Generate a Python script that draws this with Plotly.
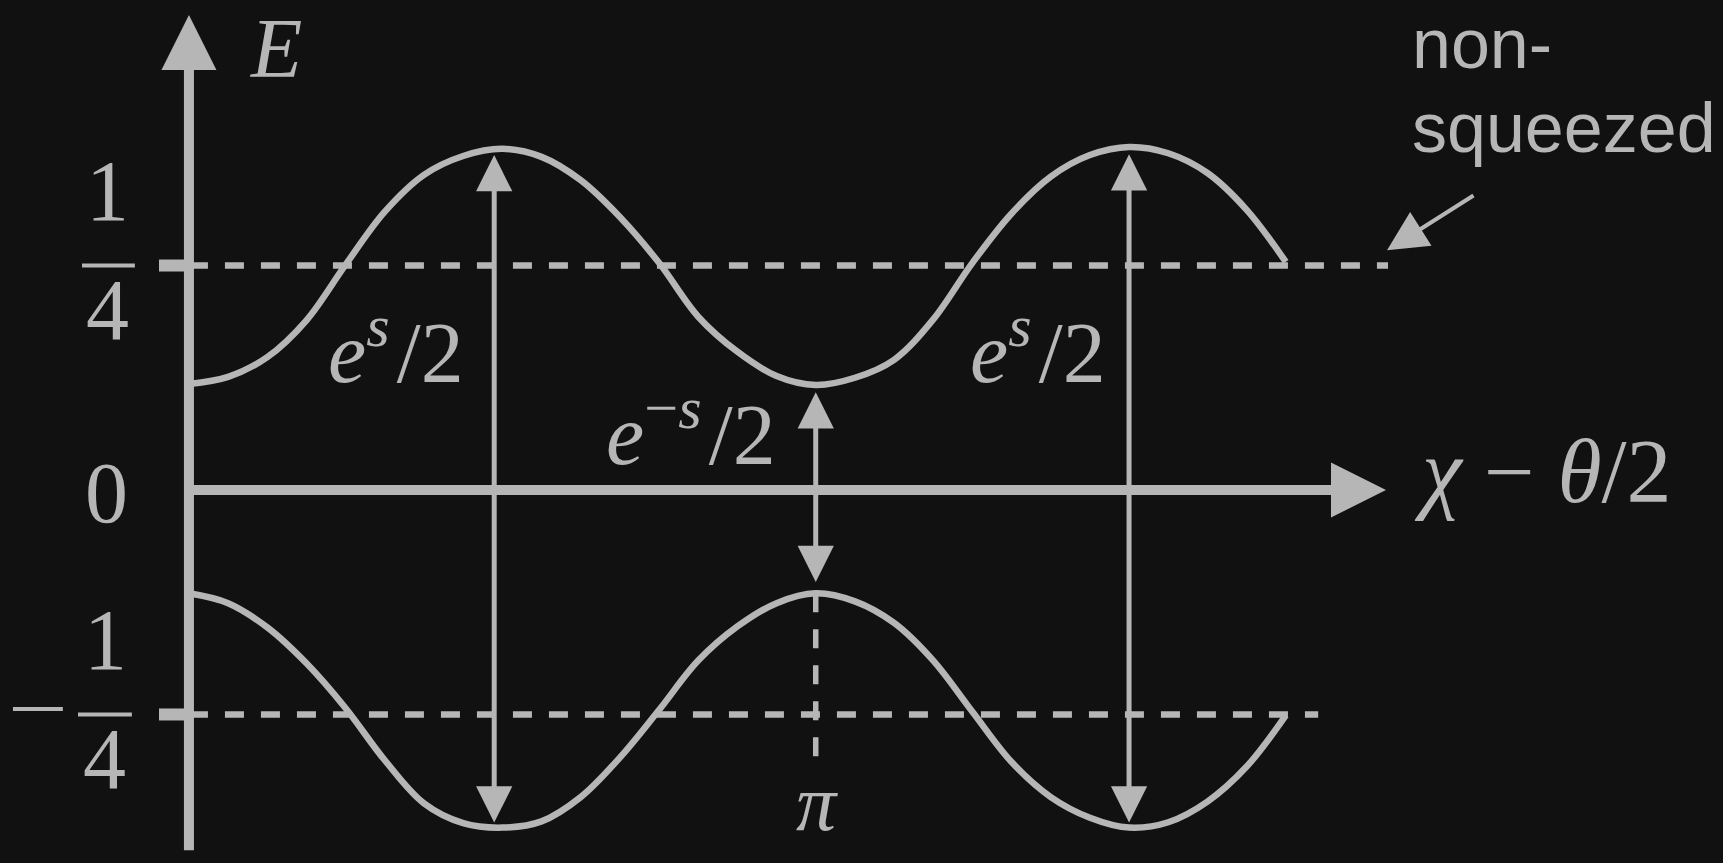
import numpy as np
import plotly.graph_objects as go

BG = "#111111"
FG = "#b6b6b6"
PI = np.pi

# ---- data: phase samples at k*pi/16 (radians) ----
phase_k = list(range(29))
upper_E = [0.118, 0.126, 0.148, 0.189, 0.251, 0.310, 0.351, 0.372, 0.380,
           0.371, 0.345, 0.304, 0.253, 0.193, 0.154, 0.127, 0.117,
           0.125, 0.145, 0.190, 0.253, 0.308, 0.349, 0.373, 0.382,
           0.375, 0.353, 0.312, 0.254]
lower_E = [-0.115, -0.126, -0.153, -0.193, -0.243, -0.301, -0.349, -0.371, -0.376,
           -0.369, -0.342, -0.298, -0.245, -0.190, -0.152, -0.126, -0.115,
           -0.124, -0.148, -0.190, -0.247, -0.303, -0.342, -0.365, -0.376,
           -0.370, -0.347, -0.308, -0.251]

levels = [0.25, -0.25]          # non-squeezed levels (+1/4, -1/4)
level_ends = [6.01, 5.66]

gap_x = [1.53, PI, 4.712]
gap_top = [0.373, 0.109, 0.374]
gap_bottom = [-0.372, -0.104, -0.372]
gap_labels = ["<i>e</i><sup><i>s</i></sup>\u200a/2",
              "<i>e</i><sup>−<i>s</i></sup>\u200a/2",
              "<i>e</i><sup><i>s</i></sup>\u200a/2"]
gap_label_x = [1.04, 2.515, 4.255]
gap_label_y = [0.160, 0.068, 0.160]

x_axis_end = 6.0
y_axis_range = [-0.403, 0.529]

x_range = [-0.947, 7.689]
y_range = [-0.4154, 0.5457]

phase = [k * PI / 16 for k in phase_k]

fig = go.Figure()

# energy bands
for vals in (upper_E, lower_E):
    fig.add_trace(go.Scatter(x=phase, y=vals, mode="lines",
                             line=dict(color=FG, width=6.5, shape="spline"),
                             hoverinfo="skip"))

# dashed non-squeezed levels
for lv, end in zip(levels, level_ends):
    fig.add_trace(go.Scatter(x=[0, end], y=[lv, lv], mode="lines",
                             line=dict(color=FG, width=6.5, dash="19px,17px"),
                             hoverinfo="skip"))

# vertical dashed line at pi
fig.add_trace(go.Scatter(x=[PI, PI], y=[lower_E[16], -0.303], mode="lines",
                         line=dict(color=FG, width=5.5, dash="19px,17px"),
                         hoverinfo="skip"))

# y-axis tick bars
for lv in levels:
    fig.add_trace(go.Scatter(x=[-0.15, 0], y=[lv, lv], mode="lines",
                             line=dict(color=FG, width=12), hoverinfo="skip"))

# fraction bars and minus sign of the tick labels
frac_bars = [([-0.536, -0.271], 0.25), ([-0.556, -0.286], -0.25), ([-0.882, -0.632], -0.244)]
for xs, yv in frac_bars:
    fig.add_trace(go.Scatter(x=xs, y=[yv, yv], mode="lines",
                             line=dict(color=FG, width=4), hoverinfo="skip"))

ann = []
# axes arrows
for a in (dict(x=0, y=y_axis_range[1], ax=0, ay=y_axis_range[0]),
          dict(x=x_axis_end, y=0, ax=0, ay=0)):
    a.update(xref="x", yref="y", axref="x", ayref="y", text="", showarrow=True,
             arrowhead=2, arrowsize=1.1, arrowwidth=10, arrowcolor=FG)
    ann.append(a)

# gap double arrows
for gx, gt, gb in zip(gap_x, gap_top, gap_bottom):
    ann.append(dict(x=gx, y=gt, ax=gx, ay=gb, xref="x", yref="y", axref="x", ayref="y",
                    text="", showarrow=True, arrowhead=2, startarrowhead=2,
                    arrowside="end+start", arrowsize=1.45, startarrowsize=1.45,
                    arrowwidth=5, arrowcolor=FG))

# non-squeezed pointer
ann.append(dict(x=6.005, y=0.267, ax=6.446, ay=0.329, xref="x", yref="y",
                axref="x", ayref="y", text="", showarrow=True, arrowhead=2,
                arrowsize=2.0, arrowwidth=4, arrowcolor=FG))

serif = dict(family="Liberation Serif", size=86, color=FG)
sans = dict(family="Liberation Sans", size=70, color=FG)


def txt(x, y, t, font, xanchor="center", yanchor="middle", yshift=0):
    ann.append(dict(x=x, y=y, xref="x", yref="y", text=t, showarrow=False,
                    font=font, xanchor=xanchor, yanchor=yanchor, yshift=yshift))


for lx, ly, lt in zip(gap_label_x, gap_label_y, gap_labels):
    txt(lx, ly, lt, serif)

txt(0.436, y_range[1], "<i>E</i>", dict(family="Liberation Serif", size=84, color=FG),
    yanchor="top")
txt(-0.411, -0.003, "0", serif)
txt(-0.406, 0.333, "1", serif)
txt(-0.406, 0.200, "4", serif)
txt(-0.416, -0.167, "1", serif)
txt(-0.421, -0.300, "4", serif)
txt(6.787, 0.021, "<i>χ</i> − <i>θ</i>/2", dict(family="Liberation Serif", size=90, color=FG))
txt(PI + 0.005, -0.3998, "<i>π</i>", dict(family="Liberation Serif", size=80, color=FG),
    yanchor="bottom")
txt(6.12, y_range[1], "non-", sans, xanchor="left", yanchor="top", yshift=-3)
txt(6.12, 0.4493, "squeezed", sans, xanchor="left", yanchor="top")

fig.update_layout(
    width=1723, height=863,
    margin=dict(l=0, r=0, t=0, b=0),
    paper_bgcolor=BG, plot_bgcolor=BG,
    showlegend=False, hovermode=False,
    xaxis=dict(range=x_range, visible=False, fixedrange=True),
    yaxis=dict(range=y_range, visible=False, fixedrange=True),
    annotations=ann,
)

fig.write_html(
    "out.html",
    config={"displayModeBar": False},
    post_script="document.body.style.margin='0px';document.body.style.overflow='hidden';"
                "document.body.style.background='" + BG + "';",
)
